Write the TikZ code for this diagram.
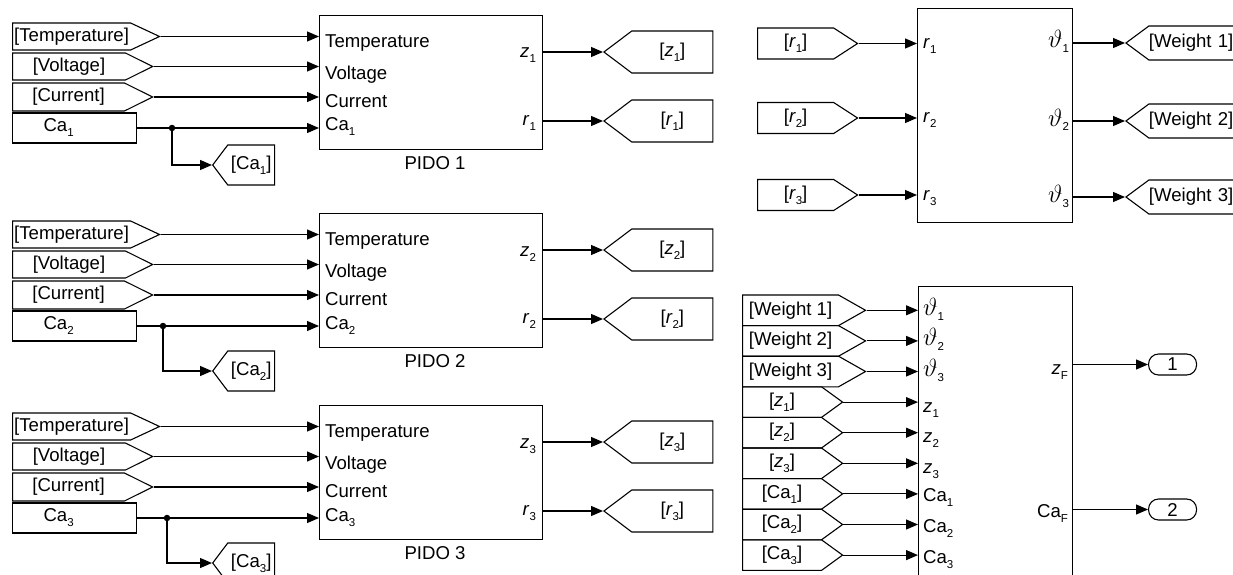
\documentclass[tikz,border=0pt]{standalone}
\usepackage{fontspec}
\setmainfont{Liberation Sans}
\usetikzlibrary{shapes.symbols, arrows.meta, positioning}

% low subscript as in the model screenshots
\newcommand{\subidx}[1]{\raisebox{-5pt}{\fontsize{11.5}{12}\selectfont #1}}
\newcommand{\wt}{{\fontsize{25}{25}\selectfont$\vartheta$}}

\begin{document}
\begin{tikzpicture}[
    x=1pt, y=-1pt,
    every node/.style = {font=\fontsize{18.6}{22}\selectfont},
    wire/.style = {line width=1.1pt},
    arrow/.style = {wire, -{Triangle[length=12pt, width=10pt]}},
    block/.style = {rectangle, draw, line width=1.1pt, anchor=north west},
    fromtag/.style = {shape=signal, signal to=east, signal from=nowhere, draw, line width=1.1pt, inner sep=0pt, anchor=west},
    gototag/.style = {shape=signal, signal to=west, signal from=nowhere, draw, line width=1.1pt, inner sep=0pt, anchor=west},
    inport/.style = {rectangle, draw, line width=1.1pt, inner xsep=31pt, text width=62pt, align=left, minimum height=30pt, anchor=west},
    outport/.style = {rectangle, rounded corners=10pt, draw, line width=1.1pt, inner sep=0pt, minimum width=48pt, minimum height=21pt, anchor=west},
    port/.style = {inner sep=0pt, anchor=base west},
    portr/.style = {inner sep=0pt, anchor=base east},
    dot/.style = {circle, fill, inner sep=0pt, minimum size=6.5pt}
]
\useasboundingbox (0,0) rectangle (1233,575);
\clip (0,0) rectangle (1233,575);

% PIDO subsystems
\foreach \n/\dy/\jx/\gy in {1/0/172/37, 2/198/163/45, 3/390/167/45} {
  \node[block, minimum width=223pt, minimum height=134pt] (pido\n) at (319,15+\dy) {};
  \node[below=3pt of pido\n, xshift=4pt] {PIDO \n};

  \node[fromtag, signal pointer angle=50, minimum width=147pt, minimum height=27pt] (temp\n) at (12,36.5+\dy) {[Temperature]};
  \node[fromtag, signal pointer angle=53, minimum width=140pt, minimum height=27pt] (volt\n) at (12,66.5+\dy) {[Voltage]};
  \node[fromtag, signal pointer angle=53, minimum width=140pt, minimum height=28pt] (curr\n) at (12,97+\dy) {[Current]};
  \node[inport] (ca\n) at (12,128+\dy) {Ca\subidx{\n}};
  \node[dot] (j\n) at (\jx,128+\dy) {};
  \node[gototag, signal pointer angle=106, minimum width=62pt, minimum height=40pt] (cago\n) at (212,128+\gy+\dy) {[Ca\subidx{\n}]};

  \draw[arrow] (temp\n.east) -- (temp\n.east -| pido\n.west);
  \draw[arrow] (volt\n.east) -- (volt\n.east -| pido\n.west);
  \draw[arrow] (curr\n.east) -- (curr\n.east -| pido\n.west);
  \draw[arrow] (ca\n.east) -- (ca\n.east -| pido\n.west);
  \draw[arrow] (j\n.center) |- (cago\n.west);

  \node[port] at ([xshift=6pt, yshift=-11pt] temp\n.east -| pido\n.west) {Temperature};
  \node[port] at ([xshift=6pt, yshift=-13pt] volt\n.east -| pido\n.west) {Voltage};
  \node[port] at ([xshift=6pt, yshift=-10pt] curr\n.east -| pido\n.west) {Current};
  \node[port] at ([xshift=6pt, yshift=-3pt] ca\n.east -| pido\n.west) {Ca\subidx{\n}};

  \node[gototag, signal pointer angle=74, minimum width=109pt, minimum height=42pt] (zgo\n) at (603,52+\dy) {[\textit{z}\subidx{\n}]};
  \node[gototag, signal pointer angle=74, minimum width=109pt, minimum height=42pt] (rgo\n) at (603,121+\dy) {[\textit{r}\subidx{\n}]};
  \draw[arrow] (zgo\n.west -| pido\n.east) -- (zgo\n.west);
  \draw[arrow] (rgo\n.west -| pido\n.east) -- (rgo\n.west);
  \node[portr] at ([xshift=-7pt, yshift=-6pt] zgo\n.west -| pido\n.east) {\textit{z}\subidx{\n}};
  \node[portr] at ([xshift=-7pt, yshift=-4pt] rgo\n.west -| pido\n.east) {\textit{r}\subidx{\n}};
}

% weighting block
\node[block, minimum width=155pt, minimum height=214pt] (wblk) at (917,8) {};
\foreach \k/\ry/\wy in {1/43.5/43, 2/118/121, 3/195/197} {
  \node[fromtag, signal pointer angle=66, minimum width=100pt, minimum height=31pt] (rin\k) at (757,\ry) {[\textit{r}\subidx{\k}]};
  \draw[arrow] (rin\k.east) -- (rin\k.east -| wblk.west);
  \node[port] at ([xshift=6pt, yshift=-5pt] rin\k.east -| wblk.west) {\textit{r}\subidx{\k}};
  \node[gototag, signal pointer angle=73, minimum height=34pt, text width=95pt, align=left] (wgo\k) at (1125,\wy) {[Weight \k]};
  \draw[arrow] (wgo\k.west -| wblk.east) -- (wgo\k.west);
  \node[portr] at ([xshift=-4pt, yshift=-5pt] wgo\k.west -| wblk.east) {\wt\subidx{\k}};
}

% fusion block
\node[block, minimum width=154pt, minimum height=320pt] (fblk) at (918,286) {};
\foreach \k in {1,2,3} {
  \node[fromtag, signal pointer angle=59, minimum width=123pt, minimum height=30.6pt] (win\k) at (742,310.3+30.6*\k-30.6) {[Weight \k]};
  \node[fromtag, signal pointer angle=72, minimum width=100pt, minimum height=30.6pt] (zin\k) at (742,402.1+30.6*\k-30.6) {[\textit{z}\subidx{\k}]};
  \node[fromtag, signal pointer angle=72, minimum width=100pt, minimum height=30.6pt] (cain\k) at (742,493.9+30.6*\k-30.6) {[Ca\subidx{\k}]};
  \draw[arrow] (win\k.east) -- (win\k.east -| fblk.west);
  \draw[arrow] (zin\k.east) -- (zin\k.east -| fblk.west);
  \draw[arrow] (cain\k.east) -- (cain\k.east -| fblk.west);
  \node[port] at ([xshift=5pt, yshift=-5pt] win\k.east -| fblk.west) {\wt\subidx{\k}};
  \node[port] at ([xshift=5pt, yshift=-10pt] zin\k.east -| fblk.west) {\textit{z}\subidx{\k}};
  \node[port] at ([xshift=5pt, yshift=-8pt] cain\k.east -| fblk.west) {Ca\subidx{\k}};
}
\node[outport] (out1) at (1148,364.5) {1};
\node[outport] (out2) at (1148,509.5) {2};
\draw[arrow] (out1.west -| fblk.east) -- (out1.west);
\draw[arrow] (out2.west -| fblk.east) -- (out2.west);
\node[portr] at ([xshift=-5pt, yshift=-10pt] out1.west -| fblk.east) {\textit{z}\subidx{F}};
\node[portr] at ([xshift=-5pt, yshift=-8pt] out2.west -| fblk.east) {Ca\subidx{F}};

\end{tikzpicture}
\end{document}
